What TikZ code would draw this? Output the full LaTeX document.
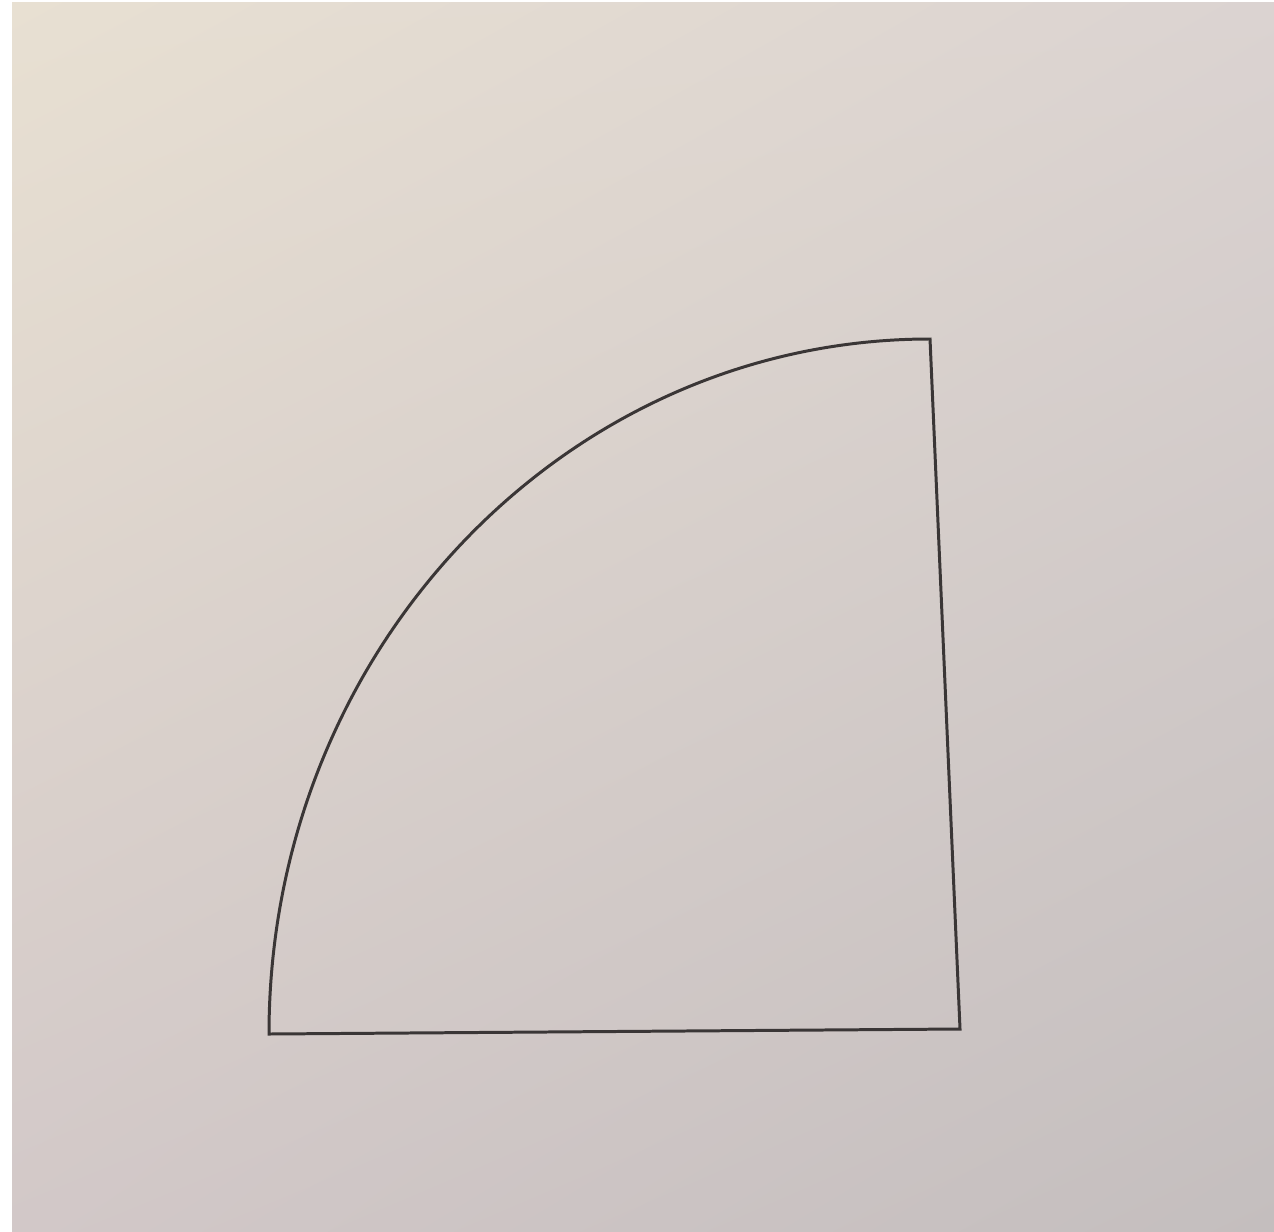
\documentclass[tikz,border=0pt]{standalone}
\usetikzlibrary{positioning, shadings}
\definecolor{paperTL}{HTML}{E8E0D2}
\definecolor{paperTR}{HTML}{DBD3D1}
\definecolor{paperBL}{HTML}{D2C8C8}
\definecolor{paperBR}{HTML}{C4BEBE}
\definecolor{pencil}{HTML}{3A3636}
\tikzset{
    paper/.style={upper left=paperTL, upper right=paperTR, lower left=paperBL, lower right=paperBR},
    outline/.style={draw=pencil, line width=0.85pt, line join=miter}
}
\begin{document}
\begin{tikzpicture}[x=0.01cm, y=-0.01cm]
    % Paper background
    \useasboundingbox (0,0) rectangle (1274,1231);
    \fill[white] (0,0) rectangle (1274,1231);
    \shade[paper] (12,3) rectangle (1274,1231);

    % Corners of the sector
    \coordinate (botleft) at (269,1034);
    \coordinate (botright) at (960,1029);
    \coordinate (topright) at (930,339);

    % Outline
    \draw[outline] (botleft) .. controls (269,650) and (565,339) .. (topright)
        -- (botright) -- cycle;
\end{tikzpicture}
\end{document}
